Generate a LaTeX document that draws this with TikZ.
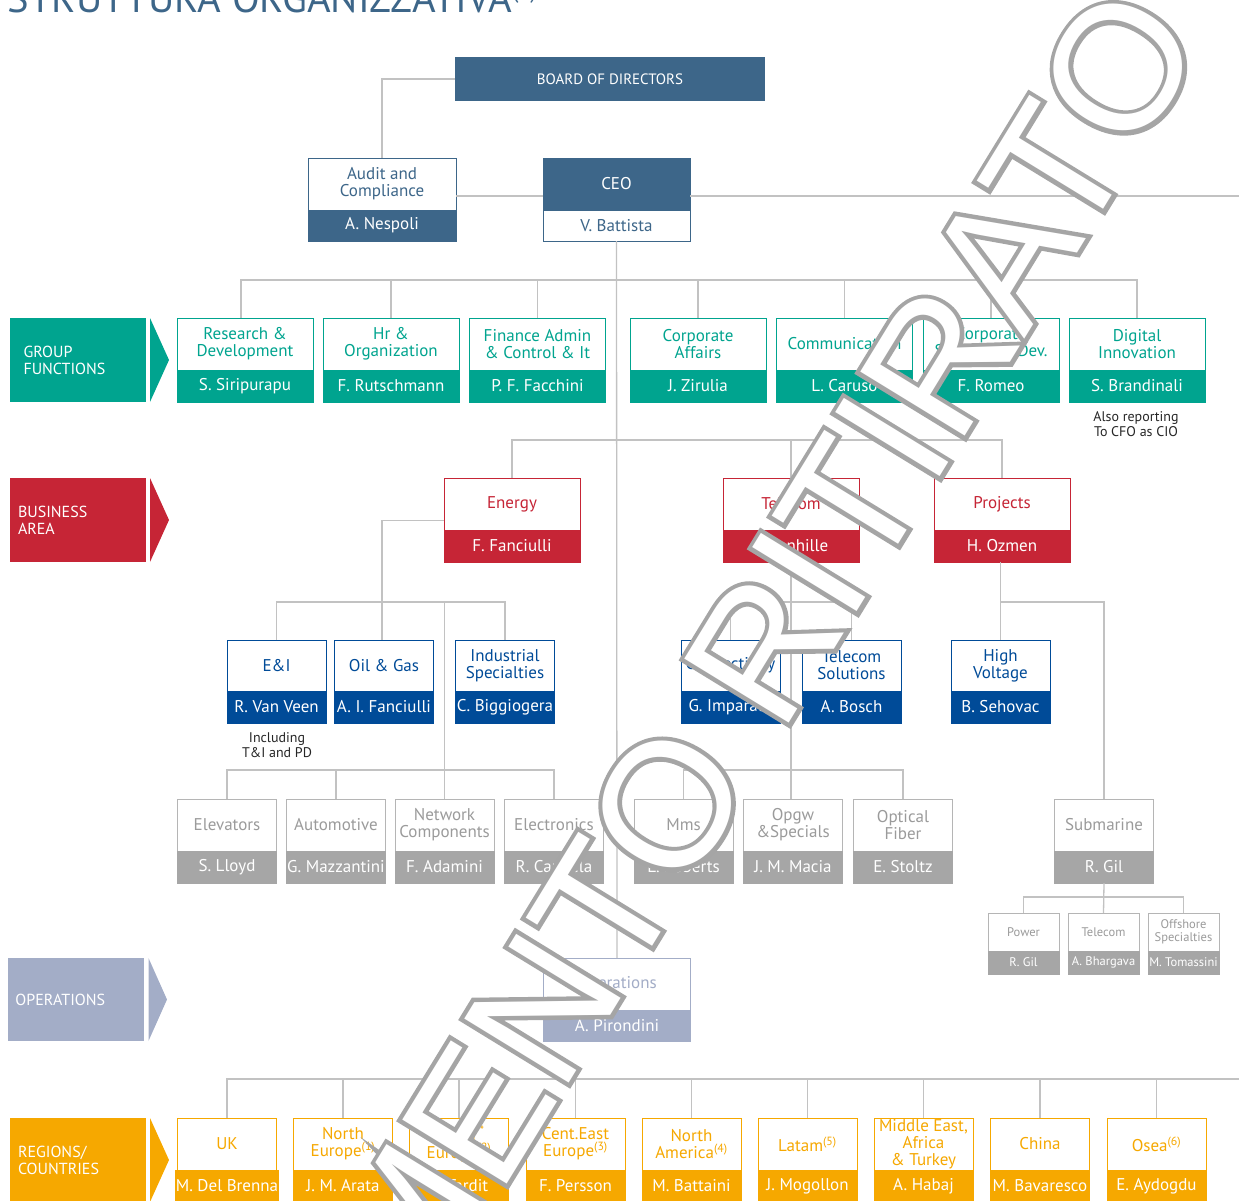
\documentclass[tikz,border=0pt]{standalone}
\usepackage{fontspec}
\setmainfont{PT Sans}
\newfontfamily\wmbold{Liberation Sans}[FakeBold=5]
\newfontfamily\wmplain{Liberation Sans}
\definecolor{cNavy}{HTML}{3D6689}
\definecolor{cTeal}{HTML}{00A48F}
\definecolor{cRed}{HTML}{C62536}
\definecolor{cBlue}{HTML}{004B98}
\definecolor{cGray}{HTML}{A6A6A6}
\definecolor{cGrayB}{HTML}{B5B5B5}
\definecolor{cGrayT}{HTML}{9B9B9B}
\definecolor{cOps}{HTML}{A3ADC7}
\definecolor{cOrange}{HTML}{F6A800}
\definecolor{cLine}{HTML}{C2C2C2}
\definecolor{cWm}{HTML}{A5A5A5}
\newcommand\szmain{\fontsize{17}{17}\selectfont}
\newcommand\szlab{\fontsize{16}{17}\selectfont}
\newcommand\szsub{\fontsize{12.5}{13}\selectfont}
\newcommand\szsmall{\fontsize{14}{15.5}\selectfont}
\newcommand\sztitle{\fontsize{40.5}{40}\selectfont}
\newcommand\szboard{\fontsize{15}{15}\selectfont}
\begin{document}
\begin{tikzpicture}[x=1pt,y=-1pt,
  every node/.style={inner sep=0pt,outer sep=0pt},
  conn/.style={draw=cLine,line width=1.3pt},
  uhead/.style={rectangle,draw=#1,fill=white,text=#1,line width=0.9pt,minimum height=52pt,align=center,anchor=north,font=\szmain},
  uname/.style={rectangle,draw=#1,fill=#1,text=white,line width=0.9pt,minimum height=32pt,align=center,anchor=north,font=\szmain},
  wide/.style={minimum width=136pt},
  narrow/.style={minimum width=99pt},
  grayhead/.style={uhead=cGrayB,text=cGrayT,narrow},
  grayname/.style={uname=cGray,narrow},
  regh/.style={uhead=cOrange,narrow},
  regn/.style={uname=cOrange,narrow},
  lab/.style={rectangle,fill=#1,text=white,anchor=north west,minimum height=84pt,align=left,font=\szlab},
  labarrow/.style={fill=#1},
  note/.style={font=\szsmall,text=black!85,align=center}
]
\useasboundingbox (0,0) rectangle (1239,1200);
\clip (0,0) rectangle (1239,1200);

% title
\node[anchor=base west,font=\sztitle,text=cNavy] (title) at (8,12) {STRUTTURA ORGANIZZATIVA{\fontsize{22}{22}\selectfont\raisebox{14pt}{(1)}}};

% top management
\node[rectangle,fill=cNavy,text=white,minimum width=310pt,minimum height=44pt,font=\szboard] (board) at (610,79) {BOARD OF DIRECTORS};
\node[uhead=cNavy,minimum width=148pt] (audit) at (382,158) {Audit and\\Compliance};
\node[uname=cNavy,minimum width=148pt,minimum height=31pt] (auditn) at (audit.south) {A. Nespoli};
\node[uhead=cNavy,fill=cNavy,text=white,minimum width=147pt] (ceo) at (616.5,158) {CEO};
\node[uname=cNavy,fill=white,text=cNavy,minimum width=147pt,minimum height=31pt] (ceon) at (ceo.south) {V. Battista};

% row labels
\node[lab=cTeal,text width=109pt,inner xsep=13.5pt] (lgf) at (10,318) {GROUP\\FUNCTIONS};
\fill[labarrow=cTeal] ([xshift=4pt]lgf.north east) -- ([xshift=23pt]lgf.east) -- ([xshift=4pt]lgf.south east) -- cycle;
\node[lab=cRed,text width=120pt,inner xsep=8pt] (lba) at (10,478) {BUSINESS\\AREA};
\fill[labarrow=cRed] ([xshift=4pt]lba.north east) -- ([xshift=23pt]lba.east) -- ([xshift=4pt]lba.south east) -- cycle;
\node[lab=cOps,text width=121pt,inner xsep=7.5pt,minimum height=83pt] (lop) at (8,958) {OPERATIONS};
\fill[labarrow=cOps] ([xshift=4.5pt]lop.north east) -- ([xshift=23pt]lop.east) -- ([xshift=4.5pt]lop.south east) -- cycle;
\node[lab=cOrange,text width=120pt,inner xsep=8pt] (lrc) at (10,1118) {REGIONS/\\COUNTRIES};
\fill[labarrow=cOrange] ([xshift=4pt]lrc.north east) -- ([xshift=23pt]lrc.east) -- ([xshift=4pt]lrc.south east) -- cycle;

% group functions
\node[uhead=cTeal,wide] (rd) at (245,318) {Research \&\\Development};
\node[uname=cTeal,wide] (rdn) at (rd.south) {S. Siripurapu};
\node[uhead=cTeal,wide] (hr) at (391,318) {Hr \&\\Organization};
\node[uname=cTeal,wide] (hrn) at (hr.south) {F. Rutschmann};
\node[uhead=cTeal,wide] (fin) at (537.5,318) {Finance Admin\\\& Control \& It};
\node[uname=cTeal,wide] (finn) at (fin.south) {P. F. Facchini};
\node[uhead=cTeal,wide] (ca) at (698,318) {Corporate\\Affairs};
\node[uname=cTeal,wide] (can) at (ca.south) {J. Zirulia};
\node[uhead=cTeal,wide] (cm) at (844.5,318) {Communication};
\node[uname=cTeal,wide] (cmn) at (cm.south) {L. Caruso};
\node[uhead=cTeal,wide] (cs) at (991,318) {Corporate\\Strategy \& Dev.};
\node[uname=cTeal,wide] (csn) at (cs.south) {F. Romeo};
\node[uhead=cTeal,wide] (di) at (1137,318) {Digital\\Innovation};
\node[uname=cTeal,wide] (din) at (di.south) {S. Brandinali};
\node[note] (also) at (1136,424) {Also reporting\\To CFO as CIO};

% business areas
\node[uhead=cRed,wide] (en) at (512,478) {Energy};
\node[uname=cRed,wide] (enn) at (en.south) {F. Fanciulli};
\node[uhead=cRed,wide] (tc) at (791,478) {Telecom};
\node[uname=cRed,wide] (tcn) at (tc.south) {P. Vanhille};
\node[uhead=cRed,wide] (pj) at (1002,478) {Projects};
\node[uname=cRed,wide] (pjn) at (pj.south) {H. Ozmen};

% business units
\node[uhead=cBlue,narrow,minimum height=51pt] (ei) at (276.5,640) {E\&I};
\node[uname=cBlue,narrow] (ein) at (ei.south) {R. Van Veen};
\node[uhead=cBlue,narrow,minimum height=51pt] (og) at (384,640) {Oil \& Gas};
\node[uname=cBlue,narrow] (ogn) at (og.south) {A. I. Fanciulli};
\node[uhead=cBlue,narrow,minimum height=51pt] (is) at (505,640) {Industrial\\Specialties};
\node[uname=cBlue,narrow] (isn) at (is.south) {C. Biggiogera};
\node[note] (incl) at (277,745) {Including\\T\&I and PD};
\node[uhead=cBlue,narrow,minimum height=51pt] (cn) at (730.5,640) {Connectivity};
\node[uname=cBlue,narrow] (cnn) at (cn.south) {G. Imparato};
\node[uhead=cBlue,narrow,minimum height=51pt] (ts) at (851.5,640) {Telecom\\Solutions};
\node[uname=cBlue,narrow] (tsn) at (ts.south) {A. Bosch};
\node[uhead=cBlue,narrow,minimum height=51pt] (hv) at (1000.5,640) {High\\Voltage};
\node[uname=cBlue,narrow] (hvn) at (hv.south) {B. Sehovac};

% product lines
\node[grayhead] (el) at (227,799) {Elevators};
\node[grayname] (eln) at (el.south) {S. Lloyd};
\node[grayhead] (au) at (336,799) {Automotive};
\node[grayname] (aun) at (au.south) {G. Mazzantini};
\node[grayhead] (nc) at (444.5,799) {Network\\Components};
\node[grayname] (ncn) at (nc.south) {F. Adamini};
\node[grayhead] (ec) at (554,799) {Electronics};
\node[grayname] (ecn) at (ec.south) {R. Candela};
\node[grayhead] (mm) at (683.5,799) {Mms};
\node[grayname] (mmn) at (mm.south) {L. Roberts};
\node[grayhead] (op) at (793,799) {Opgw\\\&Specials};
\node[grayname] (opn) at (op.south) {J. M. Macia};
\node[grayhead] (of) at (903,799) {Optical\\Fiber};
\node[grayname] (ofn) at (of.south) {E. Stoltz};
\node[grayhead] (sm) at (1104,799) {Submarine};
\node[grayname] (smn) at (sm.south) {R. Gil};
\node[grayhead,minimum width=71pt,minimum height=38pt,font=\szsub] (pw) at (1023.5,913) {Power};
\node[grayname,minimum width=71pt,minimum height=23pt,font=\szsub] (pwn) at (pw.south) {R. Gil};
\node[grayhead,minimum width=71pt,minimum height=38pt,font=\szsub] (tl) at (1103.5,913) {Telecom};
\node[grayname,minimum width=71pt,minimum height=23pt,font=\szsub] (tln) at (tl.south) {A. Bhargava};
\node[grayhead,minimum width=71pt,minimum height=38pt,font=\szsub] (osh) at (1183.5,913) {Offshore\\Specialties};
\node[grayname,minimum width=71pt,minimum height=23pt,font=\szsub] (oshn) at (osh.south) {M. Tomassini};

% operations
\node[uhead=cOps,minimum width=147pt] (ops) at (617,958) {Operations};
\node[uname=cOps,minimum width=147pt,minimum height=31pt] (opsn) at (ops.south) {A. Pirondini};

% regions
\node[regh] (uk) at (227,1118) {UK};
\node[regn] (ukn) at (uk.south) {M. Del Brenna};
\node[regh] (ne) at (343,1118) {North\\Europe\textsuperscript{(1)}};
\node[regn] (nen) at (ne.south) {J. M. Arata};
\node[regh] (se) at (459,1118) {South\textsuperscript{**}\\Europe\textsuperscript{(2)}};
\node[regn] (sen) at (se.south) {L. Tardit};
\node[regh] (ce) at (575.5,1118) {Cent.East\\Europe\textsuperscript{(3)}};
\node[regn] (cen) at (ce.south) {F. Persson};
\node[regh] (na) at (691.5,1118) {North\\America\textsuperscript{(4)}};
\node[regn] (nan) at (na.south) {M. Battaini};
\node[regh] (la) at (807.5,1118) {Latam\textsuperscript{(5)}};
\node[regn] (lan) at (la.south) {J. Mogollon};
\node[regh] (me) at (923.5,1118) {Middle East,\\Africa\\\& Turkey};
\node[regn] (men) at (me.south) {A. Habaj};
\node[regh] (cnh) at (1040,1118) {China};
\node[regn] (cnhn) at (cnh.south) {M. Bavaresco};
\node[regh] (os) at (1156.5,1118) {Osea\textsuperscript{(6)}};
\node[regn] (osn) at (os.south) {E. Aydogdu};

% connectors
\coordinate (redge) at (1239,196);
\coordinate (redge2) at (1239,1079);
\draw[conn] (board.west) -| (audit.north);
\draw[conn] ([yshift=-12pt]audit.east) -- ([yshift=-12pt]ceo.west);
\draw[conn] ([yshift=-12pt]ceo.east) -- (redge);
\draw[conn] (ceon.south) -- (ops.north);
\draw[conn] ([xshift=-4pt]rd.north) -- ++(0,-38) -| (di.north);
\foreach \n in {hr,fin,ca,cm,cs} \draw[conn] (\n.north) -- ++(0,-38);
\draw[conn] (en.north) -- ++(0,-38) -| (pj.north);
\draw[conn] (tc.north) -- ++(0,-38);
\draw[conn] ([yshift=-16.5pt]en.west) -| ([xshift=-2pt]og.north);
\draw[conn] (ei.north) -- ++(0,-38) -| (is.north);
\draw[conn] (nc.north) -- ++(0,-197);
\draw[conn] (el.north) -- ++(0,-29) -| (ec.north);
\draw[conn] (au.north) -- ++(0,-29);
\draw[conn] ([xshift=-2pt]op.north) -- ([xshift=-2pt]op.north |- tcn.south);
\draw[conn] (cn.north) -- ++(0,-38) -| (ts.north);
\draw[conn] (mm.north) -- ++(0,-29) -| (of.north);
\draw[conn] (hv.north) -- (hv.north |- pjn.south);
\draw[conn] (hv.north) ++(0,-38) -| (sm.north);
\draw[conn] (smn.south) -- (tl.north);
\draw[conn] (pw.north) -- ++(0,-16) -| (osh.north);
\draw[conn] (uk.north) -- ++(0,-39) -- (redge2);
\foreach \n in {ne,se,ce,na,la,me,cnh,os} \draw[conn] (\n.north) -- ++(0,-39);

% watermark
\node[rotate=58.5,anchor=base east,text=cWm,font={\wmbold\fontsize{178}{178}\selectfont}] (wma) at (1207,41) {DOCUMENTO RITIRATO};
\node[rotate=58.5,anchor=base east,text=white,font={\wmplain\fontsize{178}{178}\selectfont}] (wmb) at (1207,41) {DOCUMENTO RITIRATO};
\end{tikzpicture}
\end{document}
